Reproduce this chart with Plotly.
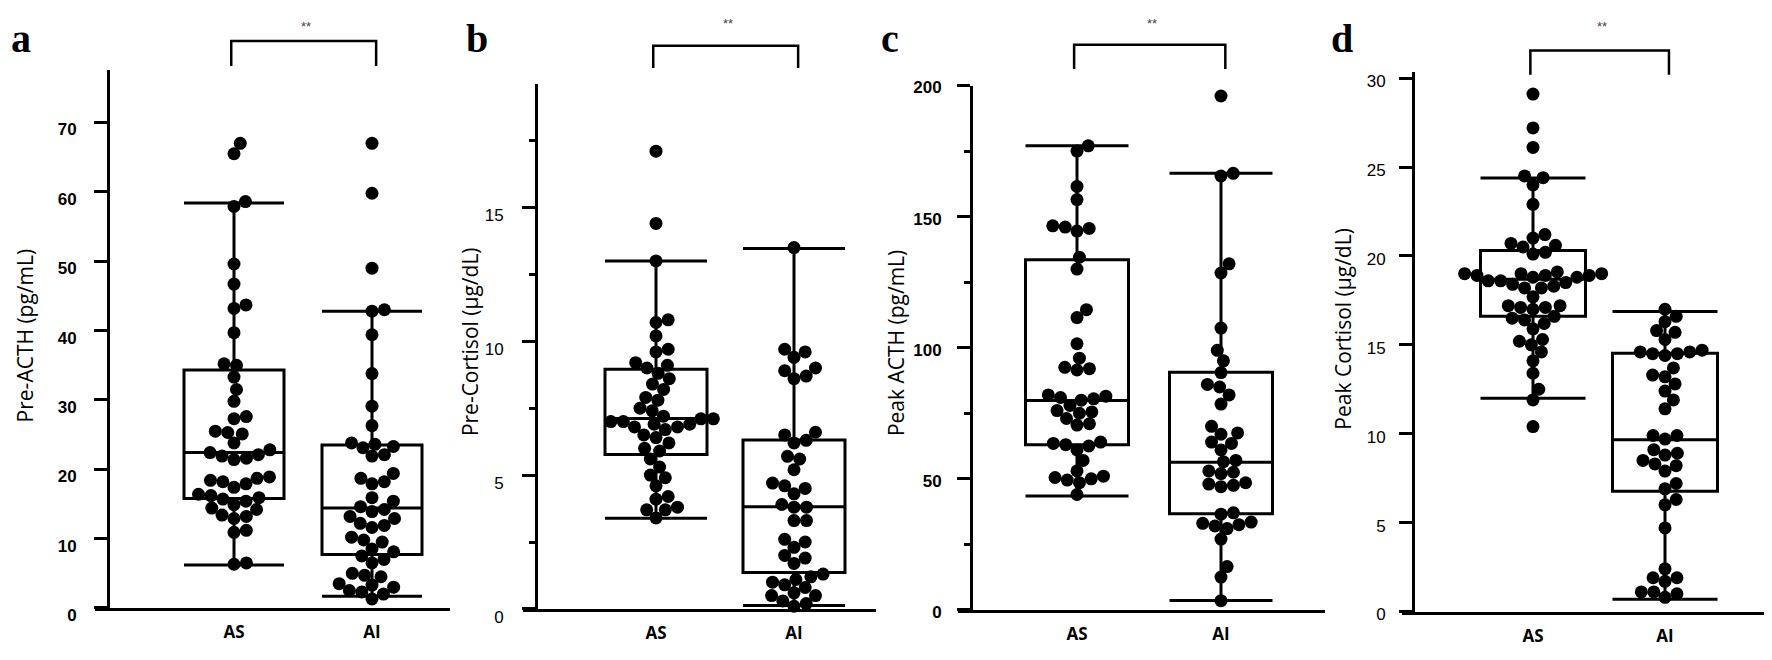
import numpy as np
import plotly.graph_objects as go

W, H = 1772, 660

# ---------------- data ----------------
groups = ["AS", "AI"]

# a: Pre-ACTH (pg/mL)
a_as = [67.0, 65.5, 58.6, 57.9, 49.6, 46.7, 43.7, 43.2, 39.7, 35.2, 35.0, 33.3, 31.5, 29.8,
        27.6, 27.3, 25.5, 25.3, 25.1, 23.8, 22.8, 22.4, 22.1, 21.9, 21.6, 21.4, 18.9, 18.7,
        18.4, 18.2, 17.9, 17.4, 16.4, 16.2, 15.9, 15.7, 15.4, 14.9, 14.4, 14.2, 13.4, 13.2,
        12.9, 11.2, 10.9, 6.5, 6.3]
a_ai = [67.0, 59.8, 49.0, 43.0, 42.8, 39.4, 33.8, 29.1, 26.3, 23.8, 23.6, 23.3, 23.1, 22.1,
        21.9, 19.4, 18.7, 18.2, 17.9, 15.9, 15.4, 14.6, 14.2, 13.9, 13.2, 12.9, 12.2, 11.9,
        11.6, 10.2, 9.8, 9.5, 8.5, 8.1, 7.5, 7.0, 6.5, 5.0, 4.7, 4.5, 3.5, 3.3, 3.0, 2.5,
        2.3, 2.0, 1.3]
a_q1 = [15.8, 7.7]
a_median = [22.4, 14.4]
a_q3 = [34.3, 23.5]
a_low = [6.2, 1.7]
a_high = [58.4, 42.8]

# b: Pre-Cortisol (µg/dL)
b_as = [17.1, 14.4, 13.0, 10.8, 10.7, 10.2, 9.7, 9.6, 9.2, 9.1, 9.0, 8.8, 8.6, 8.4, 8.2,
        7.9, 7.8, 7.5, 7.4, 7.2, 7.1, 7.1, 7.0, 7.0, 6.9, 6.9, 6.8, 6.8, 6.7, 6.5, 6.4,
        6.2, 6.0, 5.9, 5.6, 5.3, 5.0, 4.9, 4.6, 4.2, 4.1, 3.8, 3.7, 3.7, 3.4]
b_ai = [13.5, 9.7, 9.6, 9.4, 9.0, 8.9, 8.7, 8.6, 6.6, 6.5, 6.3, 6.2, 5.7, 5.6, 5.2, 4.7,
        4.6, 4.5, 4.3, 3.9, 3.8, 3.8, 3.3, 3.3, 2.6, 2.5, 2.3, 2.0, 1.9, 1.7, 1.3, 1.2,
        1.1, 1.0, 0.9, 0.8, 0.6, 0.5, 0.5, 0.3, 0.2, 0.1]
b_q1 = [5.77, 1.36]
b_median = [7.11, 3.82]
b_q3 = [8.95, 6.31]
b_low = [3.39, 0.13]
b_high = [13.0, 13.46]

# c: Peak ACTH (pg/mL)
c_as = [177.0, 175.0, 161.5, 156.5, 146.5, 146.0, 145.5, 144.5, 134.5, 130.0, 114.5, 111.5,
        101.5, 96.0, 92.5, 92.0, 91.5, 82.0, 81.5, 81.0, 80.5, 80.0, 78.0, 76.0, 75.5, 75.0,
        73.0, 71.0, 70.5, 64.0, 63.5, 63.0, 62.5, 61.0, 57.0, 53.0, 51.0, 50.5, 50.0, 49.5,
        48.5, 44.0]
c_ai = [196.0, 166.5, 165.5, 132.0, 128.5, 107.5, 99.0, 95.0, 90.5, 86.0, 85.0, 82.0, 78.5,
        70.0, 67.5, 67.0, 64.0, 63.5, 61.0, 57.0, 56.5, 53.0, 52.5, 52.0, 48.5, 48.0, 47.5,
        47.0, 37.0, 36.5, 33.5, 33.0, 32.5, 32.0, 31.0, 27.0, 16.5, 12.5, 3.5]
c_q1 = [63.0, 36.7]
c_median = [79.9, 56.3]
c_q3 = [133.5, 90.6]
c_low = [43.4, 3.6]
c_high = [177.0, 166.5]

# d: Peak Cortisol (µg/dL)
d_as = [29.1, 27.2, 26.1, 24.5, 24.4, 24.0, 22.9, 21.2, 21.0, 20.7, 20.6, 20.5, 20.2, 20.1,
        19.1, 19.0, 19.0, 19.0, 18.9, 18.9, 18.9, 18.8, 18.8, 18.6, 18.6, 18.5, 18.4, 18.3,
        18.2, 18.2, 17.7, 17.2, 17.2, 17.1, 17.1, 17.0, 16.6, 16.5, 16.4, 16.2, 15.9, 15.3,
        15.2, 15.0, 14.6, 14.1, 13.4, 12.5, 11.9, 10.4]
d_ai = [17.0, 16.6, 16.3, 15.8, 15.7, 15.3, 14.7, 14.6, 14.6, 14.5, 14.5, 14.4, 13.7, 13.3,
        13.2, 12.8, 12.4, 11.9, 11.4, 9.9, 9.9, 9.7, 9.1, 8.9, 8.8, 8.5, 8.3, 8.2, 7.9, 7.2,
        6.9, 6.3, 6.0, 4.7, 2.4, 1.9, 1.9, 1.7, 1.1, 1.1, 1.0, 0.8]
d_q1 = [16.6, 6.77]
d_median = [18.69, 9.66]
d_q3 = [20.3, 14.53]
d_low = [12.0, 0.69]
d_high = [24.38, 16.88]

titles = ["Pre-ACTH (pg/mL)", "Pre-Cortisol (μg/dL)", "Peak ACTH (pg/mL)", "Peak Cortisol (μg/dL)"]
letters = ["a", "b", "c", "d"]
signif = ["**", "**", "**", "**"]
y_ranges = [(0, 77.6), (0, 19.6), (0, 200), (0, 30.34)]
y_tickvals = [[0, 10, 20, 30, 40, 50, 60, 70], [0, 5, 10, 15], [0, 50, 100, 150, 200],
              [0, 5, 10, 15, 20, 25, 30]]
y_minor = [None, 2.5, 25, None]

values = [(a_as, a_ai), (b_as, b_ai), (c_as, c_ai), (d_as, d_ai)]
boxes = [(a_q1, a_median, a_q3, a_low, a_high), (b_q1, b_median, b_q3, b_low, b_high),
         (c_q1, c_median, c_q3, c_low, c_high), (d_q1, d_median, d_q3, d_low, d_high)]

# ---------------- layout geometry (pixels) ----------------
geom = [
    dict(xdom=(87, 442), yax=100, top=57, bot=616.3, as_px=226, ai_px=364, box_px=100,
         bold=True, shift=7, standoff=14, title_xy=(17, 333), letter_x=2,
         bracket=(27, 53), star_y=12),
    dict(xdom=(515, 868), yax=528, top=72, bot=617.3, as_px=648, ai_px=786, box_px=102,
         bold=False, shift=8, standoff=15, title_xy=(462, 340), letter_x=457,
         bracket=(32, 55), star_y=9),
    dict(xdom=(950, 1317), yax=963, top=73.3, bot=618.3, as_px=1069, ai_px=1213, box_px=103,
         bold=True, shift=2, standoff=12, title_xy=(888, 341), letter_x=872,
         bracket=(31, 56), star_y=9),
    dict(xdom=(1394, 1759), yax=1405, top=59.3, bot=620, as_px=1525, ai_px=1657, box_px=105,
         bold=False, shift=3, standoff=10, title_xy=(1335, 326), letter_x=1322,
         bracket=(37, 62), star_y=12),
]

MARK = 13
SPACING = 12.5


def swarm(vals, ppu_y, ppu_x, d):
    ys = np.asarray(vals, dtype=float) * ppu_y
    order = np.argsort(ys, kind="stable")
    placed = []
    xs = np.zeros(len(ys))
    for i in order:
        y = ys[i]
        cands = [0.0]
        ints = []
        for (px, py) in placed:
            dy = abs(py - y)
            if dy < d:
                dx = np.sqrt(d * d - dy * dy)
                ints.append((px - dx, px + dx))
                cands += [px - dx, px + dx]
        best = 0.0
        for c in sorted(cands, key=lambda c: (round(abs(c), 6), -c)):
            if all(not (lo + 1e-6 < c < hi - 1e-6) for lo, hi in ints):
                best = c
                break
        xs[i] = best
        placed.append((best, y))
    return xs / ppu_x


fig = go.Figure()
annotations = []
shapes = []

for k in range(4):
    g = geom[k]
    n = k + 1
    xa, ya = f"x{n}", f"y{n}"
    spacing_px = g["ai_px"] - g["as_px"]
    r0 = -(g["as_px"] - g["xdom"][0]) / spacing_px
    r1 = 1 + (g["xdom"][1] - g["ai_px"]) / spacing_px
    yr = y_ranges[k]
    ppu_y = (g["bot"] - g["top"]) / (yr[1] - yr[0])

    q1, med, q3, lo, hi = boxes[k]
    fig.add_trace(go.Box(
        x=[0, 1], q1=q1, median=med, q3=q3, lowerfence=lo, upperfence=hi,
        width=g["box_px"] / spacing_px, whiskerwidth=1, boxpoints=False,
        line=dict(color="black", width=3), fillcolor="rgba(0,0,0,0)",
        hoverinfo="skip", showlegend=False, xaxis=xa, yaxis=ya))

    for gi, vals in enumerate(values[k]):
        offs = swarm(vals, ppu_y, spacing_px, SPACING)
        fig.add_trace(go.Scatter(
            x=gi + offs, y=vals, mode="markers",
            marker=dict(size=MARK, color="black", line=dict(width=0)),
            cliponaxis=False, showlegend=False, hoverinfo="y", xaxis=xa, yaxis=ya))

    tick_font = dict(family="Liberation Sans, Arial, sans-serif", size=17, color="black",
                     weight="bold" if g["bold"] else "normal")
    xkey = "xaxis" if n == 1 else f"xaxis{n}"
    ykey = "yaxis" if n == 1 else f"yaxis{n}"
    fig.layout[xkey] = dict(
        domain=[g["xdom"][0] / W, g["xdom"][1] / W], range=[r0, r1], anchor=ya,
        showline=True, linewidth=3, linecolor="black", showgrid=False, zeroline=False,
        tickvals=[0, 1], ticktext=groups, ticks="", ticklabelstandoff=7,
        tickfont=dict(family="Open Sans, sans-serif", size=17, color="black", weight="bold"),
        fixedrange=True)
    ydict = dict(
        domain=[1 - g["bot"] / H, 1 - g["top"] / H], range=list(yr), anchor="free",
        position=g["yax"] / W, showline=True, linewidth=3, linecolor="black",
        showgrid=False, zeroline=False, ticks="outside", ticklen=13, tickwidth=3,
        tickcolor="black", tickvals=y_tickvals[k], tickfont=tick_font,
        ticklabelstandoff=g["standoff"], ticklabelshift=g["shift"], fixedrange=True)
    if y_minor[k]:
        ydict["minor"] = dict(dtick=y_minor[k], tick0=0, ticks="outside", ticklen=6,
                              tickwidth=3, tickcolor="black", showgrid=False)
    fig.layout[ykey] = ydict

    # bracket + significance
    def xpx(v):
        return g["xdom"][0] + (v - r0) / (r1 - r0) * (g["xdom"][1] - g["xdom"][0])
    bx0, bx1 = xpx(-0.02) / W, xpx(1.03) / W
    bt, bb = 1 - g["bracket"][0] / H, 1 - g["bracket"][1] / H
    shapes.append(dict(type="path", xref="paper", yref="paper",
                       path=f"M {bx0},{bb} L {bx0},{bt} L {bx1},{bt} L {bx1},{bb}",
                       line=dict(color="black", width=2.5)))
    annotations.append(dict(x=xpx(0.52) / W, y=1 - g["star_y"] / H, xref="paper", yref="paper",
                            text=signif[k], showarrow=False, xanchor="center", yanchor="middle",
                            font=dict(family="Liberation Sans, Arial", size=13, color="#444")))
    # axis title
    tx, ty = g["title_xy"]
    annotations.append(dict(x=tx / W, y=1 - ty / H, xref="paper", yref="paper",
                            text=titles[k], textangle=-90, showarrow=False,
                            xanchor="center", yanchor="middle",
                            font=dict(family="Open Sans, sans-serif", size=21, color="black")))
    # panel letter
    annotations.append(dict(x=g["letter_x"] / W, y=1, xref="paper", yref="paper",
                            text=letters[k], showarrow=False, xanchor="left", yanchor="top",
                            borderpad=0,
                            font=dict(family="Liberation Serif, Times New Roman, serif", size=40,
                                      color="black", weight="bold")))

fig.update_layout(
    width=W, height=H, autosize=False, margin=dict(l=0, r=0, t=0, b=0),
    paper_bgcolor="white", plot_bgcolor="white", showlegend=False,
    annotations=annotations, shapes=shapes)

fig.write_html("out.html")
